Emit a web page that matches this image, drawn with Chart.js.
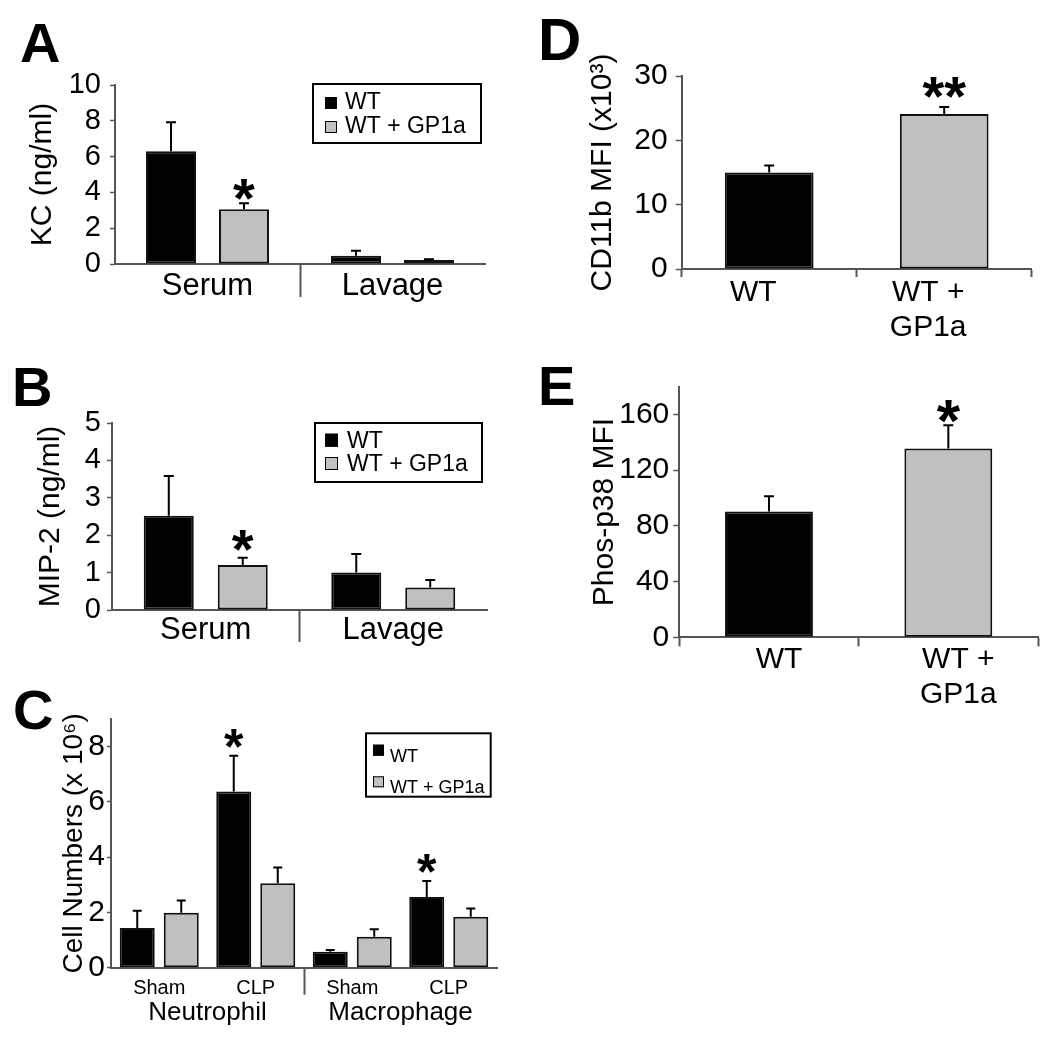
<!DOCTYPE html>
<html><head><meta charset="utf-8">
<script src="https://cdn.jsdelivr.net/npm/chart.js@4.4.0/dist/chart.umd.min.js"></script>
<style>
html,body{margin:0;padding:0;background:#fff;}
body{width:1050px;height:1049px;position:relative;overflow:hidden;font-family:'Liberation Sans',Arial,sans-serif;}
canvas{position:absolute;}
.letter{position:absolute;font:bold 56px/56px 'Liberation Sans',Arial,sans-serif;color:#000;}
</style></head><body>
<div class="letter" style="left:20px;top:15px">A</div>
<div class="letter" style="left:12px;top:359px">B</div>
<div class="letter" style="left:13px;top:682px">C</div>
<div class="letter" style="left:538px;top:12px;font-size:60px">D</div>
<div class="letter" style="left:538px;top:358px">E</div>
<canvas id="cA" width="500" height="330" style="left:0;top:0"></canvas>
<canvas id="cB" width="500" height="330" style="left:0;top:340px"></canvas>
<canvas id="cC" width="520" height="369" style="left:0;top:680px"></canvas>
<canvas id="cD" width="520" height="360" style="left:530px;top:0"></canvas>
<canvas id="cE" width="520" height="380" style="left:530px;top:350px"></canvas>
<script>
// ---------------- data ----------------
const seriesNames = ['WT', 'WT + GP1a'];

const groupsAB = ['Serum', 'Lavage'];
const kcTicks = [0, 2, 4, 6, 8, 10];
const kcWT = [6.3, 0.46];
const kcWTErr = [1.62, 0.28];
const kcGP = [3.06, 0.22];
const kcGPErr = [0.33, 0.05];
const kcSigWT = ['', ''];
const kcSigGP = ['*', ''];

const mipTicks = [0, 1, 2, 3, 4, 5];
const mipWT = [2.52, 1.0];
const mipWTErr = [1.06, 0.5];
const mipGP = [1.2, 0.6];
const mipGPErr = [0.2, 0.2];
const mipSigWT = ['', ''];
const mipSigGP = ['*', ''];

const cellTreatments = ['Sham', 'CLP', 'Sham', 'CLP'];
const cellTypes = ['Neutrophil', 'Macrophage'];
const cellTicks = [0, 2, 4, 6, 8];
const cellWT = [1.44, 6.38, 0.58, 2.56];
const cellWTErr = [0.62, 1.29, 0.06, 0.58];
const cellGP = [1.99, 3.06, 1.12, 1.84];
const cellGPErr = [0.44, 0.57, 0.27, 0.30];
const cellSigWT = ['', '*', '', '*'];
const cellSigGP = ['', '', '', ''];

const groupsDE = ['WT', ['WT +', 'GP1a']];
const cd11bTicks = [0, 10, 20, 30];
const cd11b = [15.0, 24.1];
const cd11bErr = [1.1, 1.1];
const cd11bSig = ['', '**'];
const p38Ticks = [0, 40, 80, 120, 160];
const p38 = [90.4, 135.7];
const p38Err = [11.0, 16.7];
const p38Sig = ['', '*'];

// ---------------- style ----------------
const FONT = "'Liberation Sans', Arial, sans-serif";
const AX = '#555';
const BLACK = '#000';
const GRAY = '#c0c0c0';
const CLEAR = 'rgba(0,0,0,0)';
Chart.defaults.font.family = FONT;
Chart.defaults.color = '#000';

const errorBars = {
  id: 'errorBars',
  afterDatasetsDraw(chart, args, o) {
    const ctx = chart.ctx;
    chart.data.datasets.forEach((ds, di) => {
      if (!ds.errors) return;
      const meta = chart.getDatasetMeta(di);
      const ys = chart.scales[meta.yAxisID];
      meta.data.forEach((bar, i) => {
        const v = ds.data[i], e = ds.errors[i];
        if (v == null || e == null) return;
        const yTop = ys.getPixelForValue(v + e);
        ctx.save();
        ctx.strokeStyle = o.color; ctx.lineWidth = o.width;
        ctx.beginPath();
        ctx.moveTo(bar.x, bar.y); ctx.lineTo(bar.x, yTop);
        ctx.moveTo(bar.x - o.cap / 2, yTop); ctx.lineTo(bar.x + o.cap / 2, yTop);
        ctx.stroke();
        const s = ds.sig && ds.sig[i];
        if (s) {
          ctx.font = o.sigFont; ctx.textAlign = 'center'; ctx.textBaseline = 'alphabetic';
          const m = ctx.measureText(s);
          ctx.fillStyle = '#000';
          ctx.fillText(s, bar.x, yTop - o.sigGap - m.actualBoundingBoxDescent);
        }
        ctx.restore();
      });
    });
  }
};

const boxLegend = {
  id: 'boxLegend',
  afterDraw(chart, args, o) {
    if (!o || !o.box) return;
    const ctx = chart.ctx;
    const seen = new Set(); const items = [];
    chart.data.datasets.forEach(ds => { if (!seen.has(ds.label)) { seen.add(ds.label); items.push(ds); } });
    const [x0, y0, x1, y1] = o.box;
    ctx.save();
    ctx.lineWidth = 2; ctx.strokeStyle = '#000';
    ctx.strokeRect(x0, y0, x1 - x0, y1 - y0);
    ctx.font = o.font; ctx.textBaseline = 'middle'; ctx.textAlign = 'left';
    items.forEach((ds, i) => {
      const cy = o.rows[i];
      const sy = cy + o.swatchDy - o.swatch / 2;
      ctx.fillStyle = ds.backgroundColor;
      ctx.fillRect(o.swatchX, sy, o.swatch, o.swatch);
      ctx.lineWidth = 1; ctx.strokeStyle = '#000';
      ctx.strokeRect(o.swatchX + 0.5, sy + 0.5, o.swatch - 1, o.swatch - 1);
      ctx.fillStyle = '#000';
      ctx.fillText(ds.label, o.textX, cy);
    });
    ctx.restore();
  }
};

function yScale(o) {
  return {
    type: 'linear', position: 'left', min: 0, max: o.max,
    afterFit: s => { s.width = o.width; },
    afterBuildTicks: s => { s.ticks = o.ticks.map(v => ({ value: v })); },
    ticks: { autoSkip: false, font: { size: o.tickSize }, color: '#000', padding: o.tickPad },
    grid: { display: true, drawOnChartArea: false, drawTicks: true, tickLength: o.tickLen, tickColor: AX, tickWidth: 1.5 },
    border: { display: true, color: AX, width: 2 },
    title: { display: true, text: o.title, font: { size: o.titleSize }, color: '#000', padding: { top: o.titlePad, bottom: 0 } }
  };
}

function xScale(o) {
  return {
    type: 'category', position: 'bottom', offset: true, weight: o.weight || 0,
    labels: o.labels,
    afterFit: s => { s.height = o.height; },
    ticks: { font: { size: o.size, lineHeight: o.lh || 1.2 }, color: '#000', padding: o.pad, maxRotation: 0, minRotation: 0, autoSkip: false, labelOffset: o.labelOffset || 0 },
    grid: { display: o.tickLen > 0, offset: true, drawOnChartArea: false, drawTicks: o.tickLen > 0, tickLength: o.tickLen, tickWidth: 2, tickColor: o.tickColor || AX },
    border: { display: o.border !== false, color: AX, width: 2 }
  };
}

const dividerAt = idx => (ctx => (ctx.index === idx ? AX : CLEAR));

function barDS(label, data, color, errors, sig) {
  return { label, data, backgroundColor: color, borderColor: '#111', borderWidth: 2, borderSkipped: false, errors, sig, xAxisID: 'x', yAxisID: 'y' };
}

function baseOptions(pad, barPct, catPct, plugins, scales) {
  return {
    responsive: false, animation: false, devicePixelRatio: 1,
    layout: { padding: pad },
    datasets: { bar: { barPercentage: barPct, categoryPercentage: catPct } },
    plugins: Object.assign({ legend: { display: false }, tooltip: { enabled: false } }, plugins),
    scales
  };
}

// ---------- Panel A ----------
new Chart(document.getElementById('cA'), {
  type: 'bar',
  data: { labels: groupsAB, datasets: [
    barDS(seriesNames[0], kcWT, BLACK, kcWTErr, kcSigWT),
    barDS(seriesNames[1], kcGP, GRAY, kcGPErr, kcSigGP)] },
  options: baseOptions({ top: 85, right: 15, bottom: 16, left: 0 }, 0.685, 0.789, {
      errorBars: { color: '#000', width: 2, cap: 10, sigFont: `bold 56px ${FONT}`, sigGap: 3 },
      boxLegend: { box: [313, 84, 481, 143], swatchX: 325, swatch: 12, swatchDy: 0, rows: [103, 127], textX: 345, font: `23px ${FONT}` }
    }, {
      x: xScale({ height: 50, size: 31, pad: -29.6, tickLen: 33, tickColor: dividerAt(1) }),
      y: yScale({ max: 10, ticks: kcTicks, width: 115, tickSize: 29, tickPad: 9, tickLen: 5, title: 'KC (ng/ml)', titleSize: 30, titlePad: 25 })
    }),
  plugins: [errorBars, boxLegend]
});

// ---------- Panel B ----------
new Chart(document.getElementById('cB'), {
  type: 'bar',
  data: { labels: groupsAB, datasets: [
    barDS(seriesNames[0], mipWT, BLACK, mipWTErr, mipSigWT),
    barDS(seriesNames[1], mipGP, GRAY, mipGPErr, mipSigGP)] },
  options: baseOptions({ top: 83, right: 13, bottom: 10, left: 0 }, 0.676, 0.789, {
      errorBars: { color: '#000', width: 2, cap: 10, sigFont: `bold 56px ${FONT}`, sigGap: 7 },
      boxLegend: { box: [315, 83, 482, 142], swatchX: 325, swatch: 13, swatchDy: -1.5, rows: [101.7, 125], textX: 347, font: `23px ${FONT}` }
    }, {
      x: xScale({ height: 50, size: 31, pad: -29.8, tickLen: 32, tickColor: dividerAt(1) }),
      y: yScale({ max: 5, ticks: mipTicks, width: 112, tickSize: 29, tickPad: 6, tickLen: 5, title: 'MIP-2 (ng/ml)', titleSize: 30, titlePad: 33 })
    }),
  plugins: [errorBars, boxLegend]
});

// ---------- Panel C ----------
new Chart(document.getElementById('cC'), {
  type: 'bar',
  data: { labels: cellTreatments, datasets: [
    barDS(seriesNames[0], cellWT, BLACK, cellWTErr, cellSigWT),
    barDS(seriesNames[1], cellGP, GRAY, cellGPErr, cellSigGP)] },
  options: baseOptions({ top: 39, right: 23, bottom: 12.3, left: 0 }, 0.795, 0.912, {
      errorBars: { color: '#000', width: 2, cap: 9, sigFont: `bold 50px ${FONT}`, sigGap: 8 },
      boxLegend: { box: [366, 53.3, 490.7, 116.7], swatchX: 373, swatch: 11, swatchDy: -6.5, rows: [76.7, 108.3], textX: 390, font: `18px ${FONT}` }
    }, {
      x: xScale({ height: 34, size: 20, pad: -18.2, tickLen: 27, tickColor: dividerAt(2), weight: 0 }),
      x2: xScale({ labels: cellTypes, height: 35, size: 26, pad: -4.3, tickLen: 0, border: false, weight: 1 }),
      y: yScale({ max: 9, ticks: cellTicks, width: 111, tickSize: 30, tickPad: 2, tickLen: 4, title: 'Cell Numbers (x 10\u2076)', titleSize: 28, titlePad: 57 })
    }),
  plugins: [errorBars, boxLegend]
});

// ---------- Panel D ----------
new Chart(document.getElementById('cD'), {
  type: 'bar',
  data: { labels: groupsDE, datasets: [
    barDS('CD11b MFI', cd11b, [BLACK, GRAY], cd11bErr, cd11bSig)] },
  options: baseOptions({ top: 76, right: 18.3, bottom: 11, left: 0 }, 0.507, 1.0, {
      errorBars: { color: '#000', width: 2, cap: 10, sigFont: `bold 56px ${FONT}`, sigGap: 9 }
    }, {
      x: xScale({ height: 80, size: 30, lh: '35px', pad: -1.5, tickLen: 8, labelOffset: -16 }),
      y: yScale({ max: 30, ticks: cd11bTicks, width: 151.7, tickSize: 30, tickPad: 8, tickLen: 6, title: 'CD11b MFI (x10\u00b3)', titleSize: 30, titlePad: 55 })
    }),
  plugins: [errorBars]
});

// ---------- Panel E ----------
new Chart(document.getElementById('cE'), {
  type: 'bar',
  data: { labels: groupsDE, datasets: [
    barDS('Phos-p38 MFI', p38, [BLACK, GRAY], p38Err, p38Sig)] },
  options: baseOptions({ top: 36.7, right: 12, bottom: 12.7, left: 0 }, 0.49, 1.0, {
      errorBars: { color: '#000', width: 2, cap: 10, sigFont: `bold 60px ${FONT}`, sigGap: 2 }
    }, {
      x: xScale({ height: 80, size: 30, lh: '35px', pad: -3.8, tickLen: 9, labelOffset: 10 }),
      y: yScale({ max: 180, ticks: p38Ticks, width: 149.3, tickSize: 30, tickPad: 4, tickLen: 6, title: 'Phos-p38 MFI', titleSize: 30, titlePad: 57 })
    }),
  plugins: [errorBars]
});
</script>
</body></html>
